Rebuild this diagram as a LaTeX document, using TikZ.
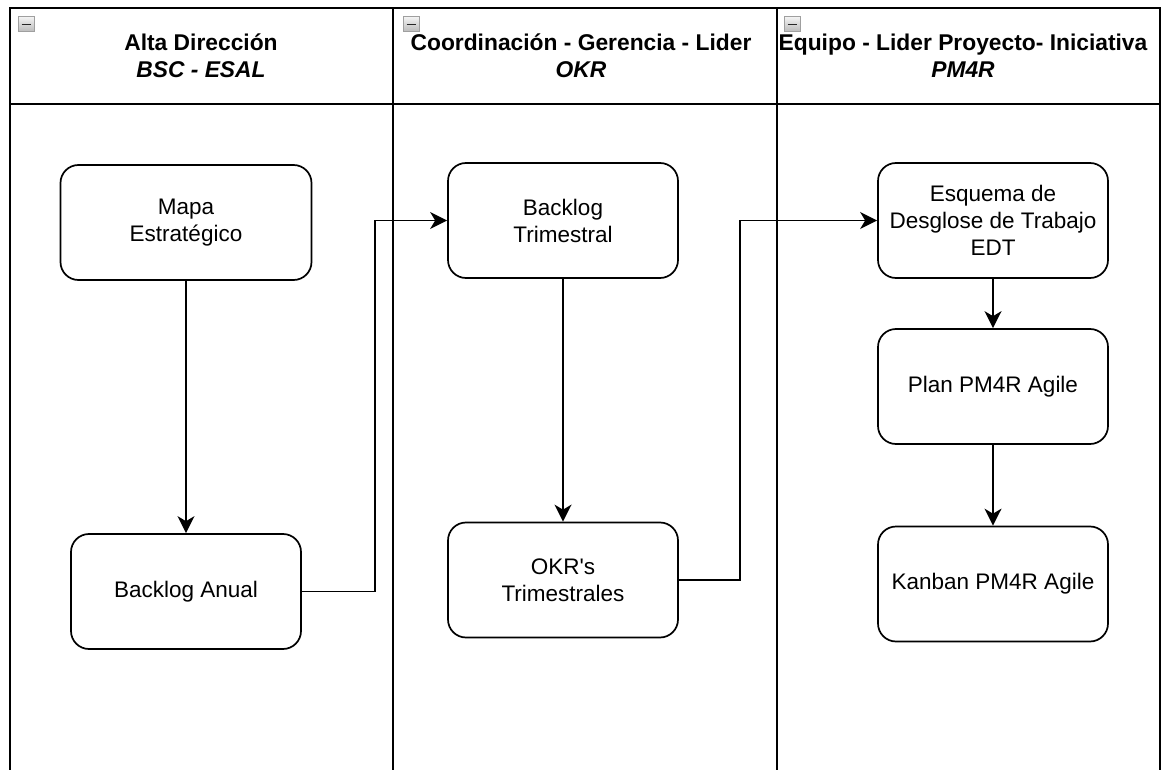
\documentclass[tikz,border=0pt]{standalone}
\usepackage{fontspec}
\setmainfont{Liberation Sans}
\usetikzlibrary{arrows.meta,positioning}

\tikzset{
  box/.style={draw, line width=1.7pt, rounded corners=18pt, minimum width=230pt,
    minimum height=115pt, align=center, inner sep=2pt,
    font=\fontsize{22.5}{27}\selectfont},
  conn/.style={line width=1.7pt, -{Stealth[length=17pt,width=17pt,inset=5pt]}},
  lane/.style={line width=1.8pt},
  lanetitle/.style={align=center, font=\fontsize{22.8}{27}\selectfont\bfseries},
  foldicon/.style={draw=gray!75, line width=1pt, top color=gray!10, bottom color=gray!55}
}

\begin{document}
\begin{tikzpicture}[x=1pt, y=-1pt]
  \useasboundingbox (0,0) rectangle (1165,770);

  % === Swimlanes ===
  \draw[lane] (10,770) -- (10,8) -- (1160,8) -- (1160,770);
  \draw[lane] (10,104) -- (1160,104);
  \draw[lane] (393,8) -- (393,770);
  \draw[lane] (777,8) -- (777,770);

  % --- lane headers ---
  \node[lanetitle] (hdAlta) at (201,56) {Alta Dirección\\\textit{BSC - ESAL}};
  \node[lanetitle] (hdCoord) at (581,56) {Coordinación - Gerencia - Lider\\\textit{OKR}};
  \node[lanetitle] (hdEquipo) at (963,56) {Equipo - Lider Proyecto- Iniciativa\\\textit{PM4R}};

  % --- collapse icons ---
  \foreach \x in {18,403,784} {
    \path[foldicon] (\x,17) rectangle ++(16,15);
    \draw[line width=1.6pt, black!85] (\x+3.5,24.5) -- (\x+12.5,24.5);
  }

  % === Boxes ===
  \node[box, minimum width=251pt] (mapa) at (186,222.5) {Mapa\\Estratégico};
  \node[box] (anual) at (186,591.5) {Backlog Anual};

  \node[box] (btrim) at (563,220.5) {Backlog\\Trimestral};
  \node[box] (okrs) at (563,580) {OKR\textquotesingle s\\Trimestrales};

  \node[box] (edt) at (993,220.5) {Esquema de\\Desglose de Trabajo\\EDT};
  \node[box] (plan) at (993,386.5) {Plan PM4R Agile};
  \node[box] (kanban) at (993,584) {Kanban PM4R Agile};

  % === Connectors ===
  \draw[conn] (mapa) -- (anual);
  \draw[conn] (anual.east) -- ++(73,0) |- (btrim.west);
  \draw[conn] (btrim) -- (okrs);
  \draw[conn] (okrs.east) -- ++(61,0) |- (edt.west);
  \draw[conn] (edt) -- (plan);
  \draw[conn] (plan) -- (kanban);
\end{tikzpicture}
\end{document}
